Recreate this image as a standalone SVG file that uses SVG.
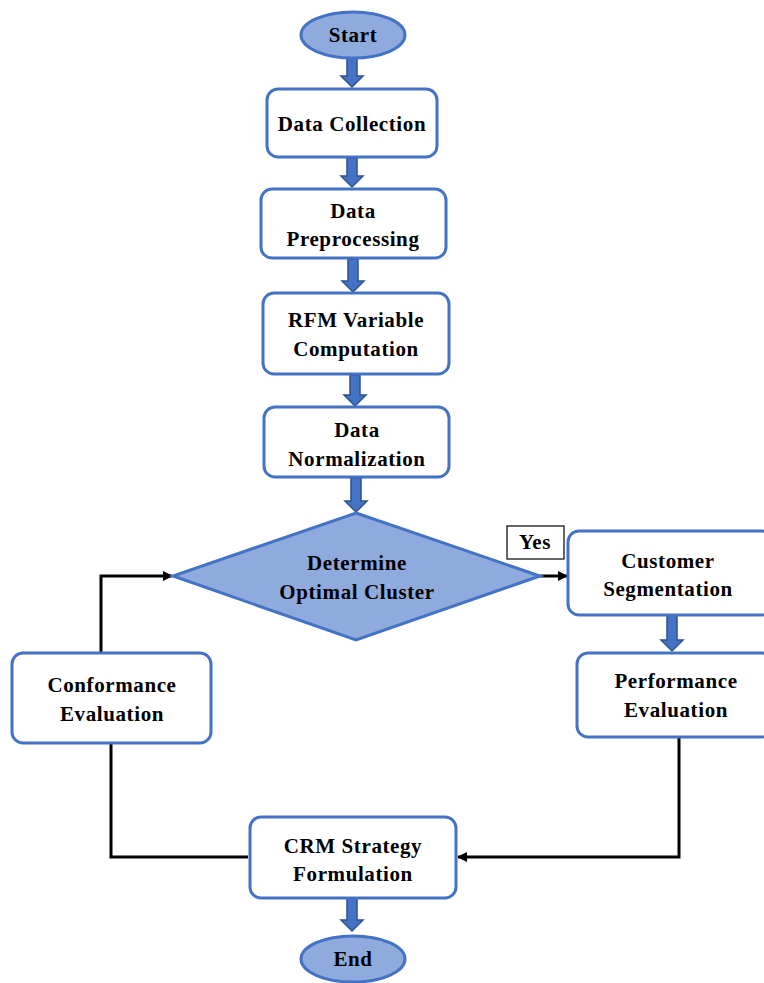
<svg xmlns="http://www.w3.org/2000/svg" width="764" height="983" viewBox="0 0 764 983">
<defs>
<style>
.box{fill:#fff;stroke:#4472C4;stroke-width:3}
.term{fill:#8FAADC;stroke:#4472C4;stroke-width:3}
.blk{fill:#4472C4;stroke:#2F528F;stroke-width:1.5}
.ln{fill:none;stroke:#000;stroke-width:3}
text{font-family:"Liberation Serif","DejaVu Serif",serif;font-weight:bold;font-size:21px;letter-spacing:0.6px;fill:#000;text-anchor:middle}
</style>
<marker id="ah" markerWidth="10" markerHeight="10" refX="9" refY="5" orient="auto" markerUnits="userSpaceOnUse" viewBox="0 0 10 10">
<path d="M0,0 L10,5 L0,10 z" fill="#000"/>
</marker>
</defs>
<g id="connectors">
<path class="blk" d="M347,58 h10 v18 h6 l-11,11 l-11,-11 h6 z"/>
<path class="blk" d="M347,158 h10 v18 h6 l-11,11 l-11,-11 h6 z"/>
<path class="blk" d="M348,259 h10 v22 h6 l-11,11 l-11,-11 h6 z"/>
<path class="blk" d="M350,375 h10 v20 h6 l-11,11 l-11,-11 h6 z"/>
<path class="blk" d="M351,478 h10 v23 h6 l-11,11 l-11,-11 h6 z"/>
<path class="blk" d="M667,615 h10 v25 h6 l-11,11 l-11,-11 h6 z"/>
<path class="blk" d="M347,898 h10 v22 h6 l-11,11 l-11,-11 h6 z"/>
<path class="ln" d="M540,576 H567" marker-end="url(#ah)"/>
<path class="ln" d="M101,652 V576 H172" marker-end="url(#ah)"/>
<path class="ln" d="M111,743 V857 H248"/>
<path class="ln" d="M679,737 V857 H458" marker-end="url(#ah)"/>
</g>
<g id="start"><ellipse class="term" cx="353" cy="35" rx="52" ry="23"/><text x="353" y="42">Start</text></g>
<g id="data-collection"><rect class="box" x="267" y="89" width="170" height="68" rx="11"/><text x="352" y="131">Data Collection</text></g>
<g id="data-preprocessing"><rect class="box" x="261" y="189" width="185" height="69" rx="11"/><text x="353" y="218">Data</text><text x="353" y="246">Preprocessing</text></g>
<g id="rfm"><rect class="box" x="263" y="293" width="186" height="81" rx="11"/><text x="356" y="327">RFM Variable</text><text x="356" y="356">Computation</text></g>
<g id="normalization"><rect class="box" x="264" y="407" width="185" height="70" rx="11"/><text x="357" y="437">Data</text><text x="357" y="466">Normalization</text></g>
<g id="decision"><polygon class="term" points="356,513 540,576 356,640 173,576"/><text x="357" y="570">Determine</text><text x="357" y="599">Optimal Cluster</text></g>
<g id="yes"><rect x="507" y="526" width="57" height="33" fill="#fff" stroke="#000" stroke-width="1.2"/><text x="535" y="549">Yes</text></g>
<g id="customer-segmentation"><rect class="box" x="568" y="531" width="205" height="84" rx="11"/><text x="668" y="568">Customer</text><text x="668" y="596">Segmentation</text></g>
<g id="performance-evaluation"><rect class="box" x="577" y="653" width="196" height="84" rx="11"/><text x="676" y="688">Performance</text><text x="676" y="717">Evaluation</text></g>
<g id="conformance-evaluation"><rect class="box" x="12" y="653" width="199" height="90" rx="11"/><text x="112" y="692">Conformance</text><text x="112" y="721">Evaluation</text></g>
<g id="crm-strategy"><rect class="box" x="250" y="817" width="206" height="81" rx="11"/><text x="353" y="853">CRM Strategy</text><text x="353" y="881">Formulation</text></g>
<g id="end"><ellipse class="term" cx="353" cy="959" rx="52" ry="23"/><text x="353" y="966">End</text></g>
</svg>
